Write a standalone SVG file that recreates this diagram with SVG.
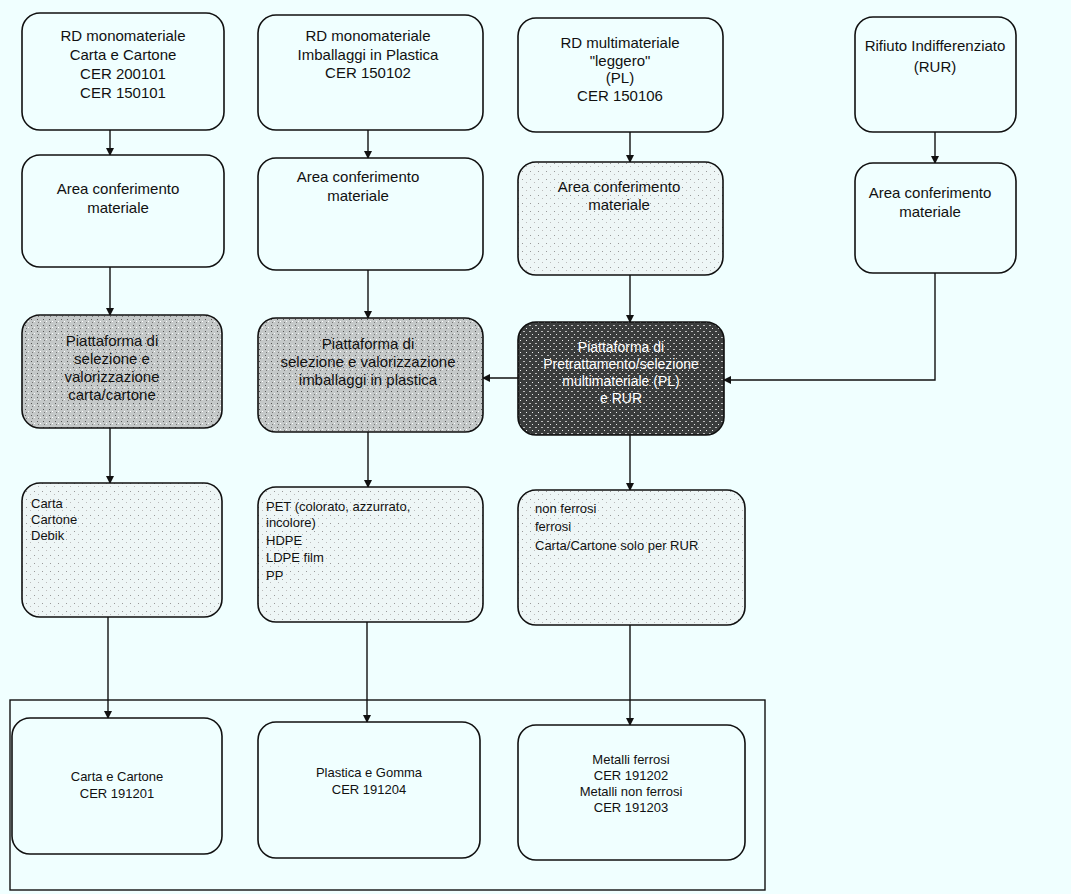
<svg xmlns="http://www.w3.org/2000/svg" width="1071" height="894" viewBox="0 0 1071 894">
<defs>
<marker id="ah" markerWidth="8" markerHeight="8" refX="7" refY="4" orient="auto" markerUnits="userSpaceOnUse">
<path d="M0,0 L8,4 L0,8 Z" fill="#111"/>
</marker>
<pattern id="noise" width="6" height="6" patternUnits="userSpaceOnUse">
<rect width="6" height="6" fill="#c4c8c8"/>
<rect x="1" y="1" width="1" height="1" fill="#555"/>
<rect x="4" y="3" width="1" height="1" fill="#fff"/>
<rect x="2" y="4" width="1" height="1" fill="#777"/>
</pattern>
<pattern id="dark" width="6" height="6" patternUnits="userSpaceOnUse">
<rect width="6" height="6" fill="#3a3c3c"/>
<rect x="1" y="1" width="2" height="1" fill="#bbb"/>
<rect x="4" y="4" width="1" height="1" fill="#eee"/>
</pattern>
<pattern id="light" width="8" height="8" patternUnits="userSpaceOnUse">
<rect width="8" height="8" fill="#eef6f6"/>
<rect x="2" y="3" width="1" height="1" fill="#999"/>
<rect x="6" y="6" width="1" height="1" fill="#bbb"/>
</pattern>
</defs>
<style>
.bx{fill:#f0ffff;stroke:#111;stroke-width:1.6}
.g{fill:url(#noise);stroke:#111;stroke-width:1.6}
.d{fill:url(#dark);stroke:#111;stroke-width:1.6}
.l{fill:url(#light);stroke:#111;stroke-width:1.6}
text{font-family:"Liberation Sans",Arial,sans-serif;font-size:15px;fill:#111}
.c{text-anchor:middle}
.s{font-size:13px}
.w{fill:#fff;font-size:14px}
.cn{stroke:#111;stroke-width:1.4;fill:none}
</style>
<rect width="1071" height="894" fill="#f0ffff"/>

<g id="connectors">
<line class="cn" x1="110" y1="130" x2="110" y2="155" marker-end="url(#ah)"/>
<line class="cn" x1="368" y1="130" x2="368" y2="158" marker-end="url(#ah)"/>
<line class="cn" x1="630" y1="132" x2="630" y2="162" marker-end="url(#ah)"/>
<line class="cn" x1="935" y1="132" x2="935" y2="163" marker-end="url(#ah)"/>
<line class="cn" x1="110" y1="267" x2="110" y2="315" marker-end="url(#ah)"/>
<line class="cn" x1="368" y1="270" x2="368" y2="318" marker-end="url(#ah)"/>
<line class="cn" x1="630" y1="275" x2="630" y2="322" marker-end="url(#ah)"/>
<polyline class="cn" points="935,273 935,380 724,380" marker-end="url(#ah)"/>
<line class="cn" x1="518" y1="378" x2="483" y2="378" marker-end="url(#ah)"/>
<line class="cn" x1="110" y1="428" x2="110" y2="483" marker-end="url(#ah)"/>
<line class="cn" x1="368" y1="432" x2="368" y2="487" marker-end="url(#ah)"/>
<line class="cn" x1="630" y1="435" x2="630" y2="490" marker-end="url(#ah)"/>
<line class="cn" x1="108" y1="617" x2="108" y2="718" marker-end="url(#ah)"/>
<line class="cn" x1="367" y1="622" x2="367" y2="722" marker-end="url(#ah)"/>
<line class="cn" x1="630" y1="625" x2="630" y2="725" marker-end="url(#ah)"/>
</g>

<g id="container"><rect x="10" y="700" width="755" height="190" fill="none" stroke="#111" stroke-width="1.4"/></g>

<g id="rd-carta"><rect class="bx" x="22" y="13" width="202" height="117" rx="18"/>
<text class="c" x="123" y="41">RD monomateriale</text><text class="c" x="123" y="60">Carta e Cartone</text><text class="c" x="123" y="79">CER 200101</text><text class="c" x="123" y="98">CER 150101</text></g>
<g id="rd-plastica"><rect class="bx" x="258" y="15" width="225" height="115" rx="18"/>
<text class="c" x="368" y="41">RD monomateriale</text><text class="c" x="368" y="60">Imballaggi in Plastica</text><text class="c" x="368" y="78">CER 150102</text></g>
<g id="rd-multi"><rect class="bx" x="518" y="18" width="205" height="114" rx="18"/>
<text class="c" x="620" y="48">RD multimateriale</text><text class="c" x="620" y="66">"leggero"</text><text class="c" x="620" y="83">(PL)</text><text class="c" x="620" y="101">CER 150106</text></g>
<g id="rur"><rect class="bx" x="855" y="17" width="161" height="115" rx="18"/>
<text class="c" x="935" y="51">Rifiuto Indifferenziato</text><text class="c" x="935" y="72">(RUR)</text></g>

<g id="area-1"><rect class="bx" x="22" y="155" width="202" height="112" rx="18"/>
<text class="c" x="118" y="194">Area conferimento</text><text class="c" x="118" y="213">materiale</text></g>
<g id="area-2"><rect class="bx" x="258" y="158" width="225" height="112" rx="18"/>
<text class="c" x="358" y="182">Area conferimento</text><text class="c" x="358" y="201">materiale</text></g>
<g id="area-3"><rect class="l" x="518" y="162" width="205" height="113" rx="18"/>
<text class="c" x="619" y="192">Area conferimento</text><text class="c" x="619" y="210">materiale</text></g>
<g id="area-4"><rect class="bx" x="855" y="163" width="161" height="110" rx="18"/>
<text class="c" x="930" y="198">Area conferimento</text><text class="c" x="930" y="217">materiale</text></g>

<g id="piatt-carta"><rect class="g" x="22" y="315" width="200" height="113" rx="18"/>
<text class="c" x="112" y="346">Piattaforma di</text><text class="c" x="112" y="364">selezione e</text><text class="c" x="112" y="382">valorizzazione</text><text class="c" x="112" y="400">carta/cartone</text></g>
<g id="piatt-plastica"><rect class="g" x="258" y="318" width="225" height="114" rx="18"/>
<text class="c" x="368" y="349">Piattaforma di</text><text class="c" x="368" y="367">selezione e valorizzazione</text><text class="c" x="368" y="385">imballaggi in plastica</text></g>
<g id="piatt-multi"><rect class="d" x="518" y="322" width="206" height="113" rx="18"/>
<text class="c w" x="621" y="352">Piattaforma di</text><text class="c w" x="621" y="369">Pretrattamento/selezione</text><text class="c w" x="621" y="386">multimateriale (PL)</text><text class="c w" x="621" y="403">e RUR</text></g>

<g id="out-carta"><rect class="l" x="22" y="483" width="200" height="134" rx="18"/>
<text class="s" x="31" y="508">Carta</text><text class="s" x="31" y="524">Cartone</text><text class="s" x="31" y="540">Debik</text></g>
<g id="out-plastica"><rect class="l" x="258" y="487" width="225" height="135" rx="18"/>
<text class="s" x="266" y="511">PET (colorato, azzurrato,</text><text class="s" x="266" y="527">incolore)</text><text class="s" x="266" y="545">HDPE</text><text class="s" x="266" y="562">LDPE film</text><text class="s" x="266" y="580">PP</text></g>
<g id="out-multi"><rect class="l" x="518" y="490" width="227" height="135" rx="18"/>
<text class="s" x="535" y="513">non ferrosi</text><text class="s" x="535" y="531">ferrosi</text><text class="s" x="535" y="550">Carta/Cartone solo per RUR</text></g>

<g id="cer-carta"><rect class="bx" x="12" y="718" width="210" height="136" rx="18"/>
<text class="c s" x="117" y="781">Carta e Cartone</text><text class="c s" x="117" y="798">CER 191201</text></g>
<g id="cer-plastica"><rect class="bx" x="258" y="722" width="222" height="136" rx="18"/>
<text class="c s" x="369" y="777">Plastica e Gomma</text><text class="c s" x="369" y="794">CER 191204</text></g>
<g id="cer-metalli"><rect class="bx" x="518" y="725" width="227" height="135" rx="18"/>
<text class="c s" x="631" y="764">Metalli ferrosi</text><text class="c s" x="631" y="780">CER 191202</text><text class="c s" x="631" y="796">Metalli non ferrosi</text><text class="c s" x="631" y="812">CER 191203</text></g>
</svg>
